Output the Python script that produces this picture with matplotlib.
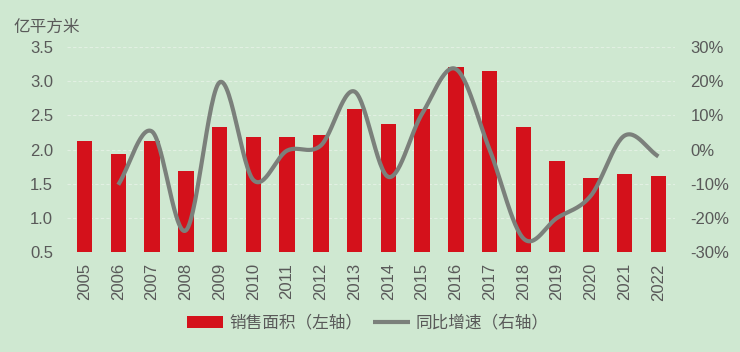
import matplotlib.pyplot as plt
import numpy as np

plt.rcParams['font.family'] = ['Liberation Sans', 'Noto Sans CJK SC']

years = [str(y) for y in range(2005, 2023)]
# sales area, 1e8 m2 (left axis)
area = [2.12, 1.94, 2.12, 1.68, 2.33, 2.18, 2.19, 2.22, 2.59,
        2.37, 2.60, 3.21, 3.15, 2.33, 1.83, 1.58, 1.64, 1.61]
# yoy growth (right axis), from 2006
growth_years = years[1:]
growth = [-0.103, 0.053, -0.237, 0.197, -0.089, -0.003, 0.012, 0.170,
          -0.080, 0.105, 0.236, 0.000, -0.260, -0.200, -0.135, 0.041, -0.020]

bg = '#cfe8d1'
red = '#d4111b'
grey = '#7b807b'
txt = '#595959'


def catmull_rom(x, y, n=30):
    # smooth line like the spreadsheet "smoothed line" option
    x = np.asarray(x, float)
    y = np.asarray(y, float)
    px = np.concatenate([[2 * x[0] - x[1]], x, [2 * x[-1] - x[-2]]])
    py = np.concatenate([[2 * y[0] - y[1]], y, [2 * y[-1] - y[-2]]])
    xs, ys = [], []
    t = np.linspace(0, 1, n)
    for i in range(1, len(px) - 2):
        for p, out in ((px, xs), (py, ys)):
            p0, p1, p2, p3 = p[i - 1], p[i], p[i + 1], p[i + 2]
            out.extend(0.5 * (2 * p1 + (-p0 + p2) * t
                              + (2 * p0 - 5 * p1 + 4 * p2 - p3) * t ** 2
                              + (-p0 + 3 * p1 - 3 * p2 + p3) * t ** 3))
    return np.array(xs), np.array(ys)


fig = plt.figure(figsize=(7.4, 3.52), dpi=100, facecolor=bg)
ax = fig.add_axes([0.0905, 0.284, 0.822, 0.582], facecolor=bg)
ax2 = ax.twinx()

xpos = np.arange(len(years))
bars = ax.bar(xpos, np.array(area) - 0.5, bottom=0.5, width=0.46, color=red,
              label='销售面积（左轴）', zorder=3)
gx = np.arange(1, len(years))
sx, sy = catmull_rom(gx, growth)
line, = ax2.plot(sx, sy, color=grey, lw=3, solid_capstyle='butt',
                 label='同比增速（右轴）', zorder=4)

ax.set_xlim(-0.52, 17.5)
ax.set_ylim(0.5, 3.5)
ax.set_yticks(np.arange(0.5, 3.51, 0.5))
ax.set_yticklabels([f'{v:.1f}' for v in np.arange(0.5, 3.51, 0.5)])
ax2.set_ylim(-0.3, 0.3)
ax2.set_yticks(np.arange(-0.3, 0.31, 0.1))
ax2.set_yticklabels([f'{round(v * 100)}%' for v in np.arange(-0.3, 0.31, 0.1)])
ax.set_xticks(xpos)
ax.set_xticklabels(years, rotation=90)

for a in (ax, ax2):
    for s in a.spines.values():
        s.set_visible(False)
    a.tick_params(length=0, colors=txt, labelsize=12)
ax.tick_params(axis='y', pad=10)
ax2.tick_params(axis='y', pad=11)
ax.tick_params(axis='x', pad=8)
ax.grid(axis='y', color='#e2f0e3', lw=0.8, ls=(0, (3, 2)), zorder=0)
ax.set_axisbelow(True)

fig.text(0.018, 0.923, '亿平方米', color=txt, fontsize=12, va='center')

fig.legend([bars, line], ['销售面积（左轴）', '同比增速（右轴）'],
           loc='center', bbox_to_anchor=(0.497, 0.083), ncol=2, frameon=False,
           fontsize=12, labelcolor=txt, handlelength=2.2, handleheight=0.72,
           handletextpad=0.36, columnspacing=0.66)

fig.savefig('out.png', dpi=100, facecolor=bg)
